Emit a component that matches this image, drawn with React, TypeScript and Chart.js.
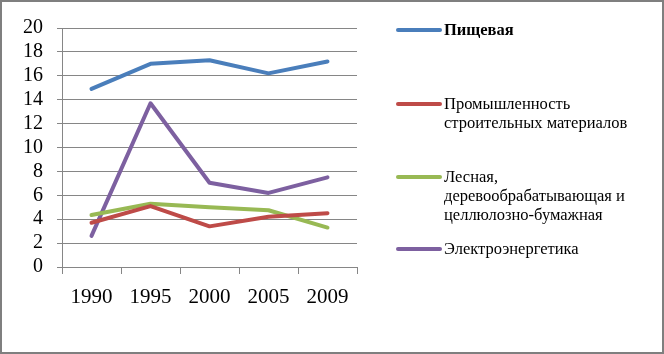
import React, { useEffect, useRef } from "react";
import { Chart, registerables } from "chart.js";

Chart.register(...registerables);

const categories = ["1990", "1995", "2000", "2005", "2009"];
const food = [14.9, 17.0, 17.3, 16.2, 17.2];
const building = [3.7, 5.1, 3.4, 4.2, 4.5];
const forest = [4.35, 5.3, 5.0, 4.75, 3.3];
const power = [2.6, 13.7, 7.05, 6.2, 7.5];
const seriesLabels: string[][] = [
  ["Пищевая"],
  ["Промышленность", "строительных материалов"],
  ["Лесная,", "деревообрабатывающая и", "целлюлозно-бумажная"],
  ["Электроэнергетика"],
];
const seriesColors = ["#4a7ebb", "#be4b48", "#98b954", "#7d60a0"];
const yMin = 0;
const yMax = 20;
const yStep = 2;

const FONT = "'Liberation Serif', 'Times New Roman', serif";

const legendPlugin = {
  id: "customLegend",
  afterDraw(chart: any) {
    const ctx = chart.ctx;
    const lineX0 = 396;
    const lineX1 = 438;
    const textX = 442;
    const startY = [28, 102, 175, 247];
    const lh = 19;
    ctx.save();
    chart.data.datasets.forEach((ds: any, i: number) => {
      const y = startY[i];
      ctx.strokeStyle = ds.borderColor;
      ctx.lineWidth = 4;
      ctx.lineCap = "round";
      ctx.beginPath();
      ctx.moveTo(lineX0, y);
      ctx.lineTo(lineX1, y);
      ctx.stroke();
      ctx.fillStyle = "#000";
      ctx.textBaseline = "middle";
      ctx.textAlign = "left";
      ctx.font = (i === 0 ? "bold " : "") + "16.5px " + FONT;
      const lines: string[] = ds.legendLines;
      lines.forEach((t, j) => {
        ctx.fillText(t, textX, y + 1 + j * lh);
      });
    });
    ctx.restore();
  },
};

export default function App() {
  const ref = useRef<HTMLCanvasElement>(null);
  useEffect(() => {
    document.body.style.margin = "0";
    const values = [food, building, forest, power];
    const chart = new Chart(ref.current!, {
      type: "line",
      data: {
        labels: categories,
        datasets: values.map((v, i) => ({
          label: seriesLabels[i].join(" "),
          legendLines: seriesLabels[i],
          data: v,
          borderColor: seriesColors[i],
          backgroundColor: seriesColors[i],
          borderWidth: 4,
          pointRadius: 0,
          tension: 0,
          borderCapStyle: "round",
          borderJoinStyle: "round",
        })) as any,
      },
      options: {
        animation: false,
        responsive: false,
        maintainAspectRatio: false,
        layout: { padding: { top: 16, right: 305, left: 0, bottom: 0 } },
        plugins: { legend: { display: false }, tooltip: { enabled: false } },
        scales: {
          x: {
            offset: true,
            grid: {
              offset: true,
              drawOnChartArea: false,
              drawTicks: true,
              tickLength: 7,
              color: "#868686",
            },
            border: { color: "#868686", width: 1 },
            ticks: { color: "#000", font: { family: FONT, size: 21 }, padding: 11, autoSkip: false, maxRotation: 0 },
            afterFit: (s: any) => {
              s.height = 85;
            },
          },
          y: {
            min: yMin,
            max: yMax,
            ticks: { stepSize: yStep, color: "#000", font: { family: FONT, size: 20 }, padding: 14, autoSkip: false },
            grid: { color: "#868686", tickLength: 5 },
            border: { color: "#868686", width: 1 },
            afterFit: (s: any) => {
              s.width = 60;
            },
          },
        },
      } as any,
      plugins: [legendPlugin],
    });
    return () => chart.destroy();
  }, []);
  return (
    <div
      style={{
        width: 664,
        height: 354,
        boxSizing: "border-box",
        border: "2px solid #7f7f7f",
        background: "#fff",
      }}
    >
      <canvas ref={ref} width={660} height={350} style={{ display: "block" }} />
    </div>
  );
}
